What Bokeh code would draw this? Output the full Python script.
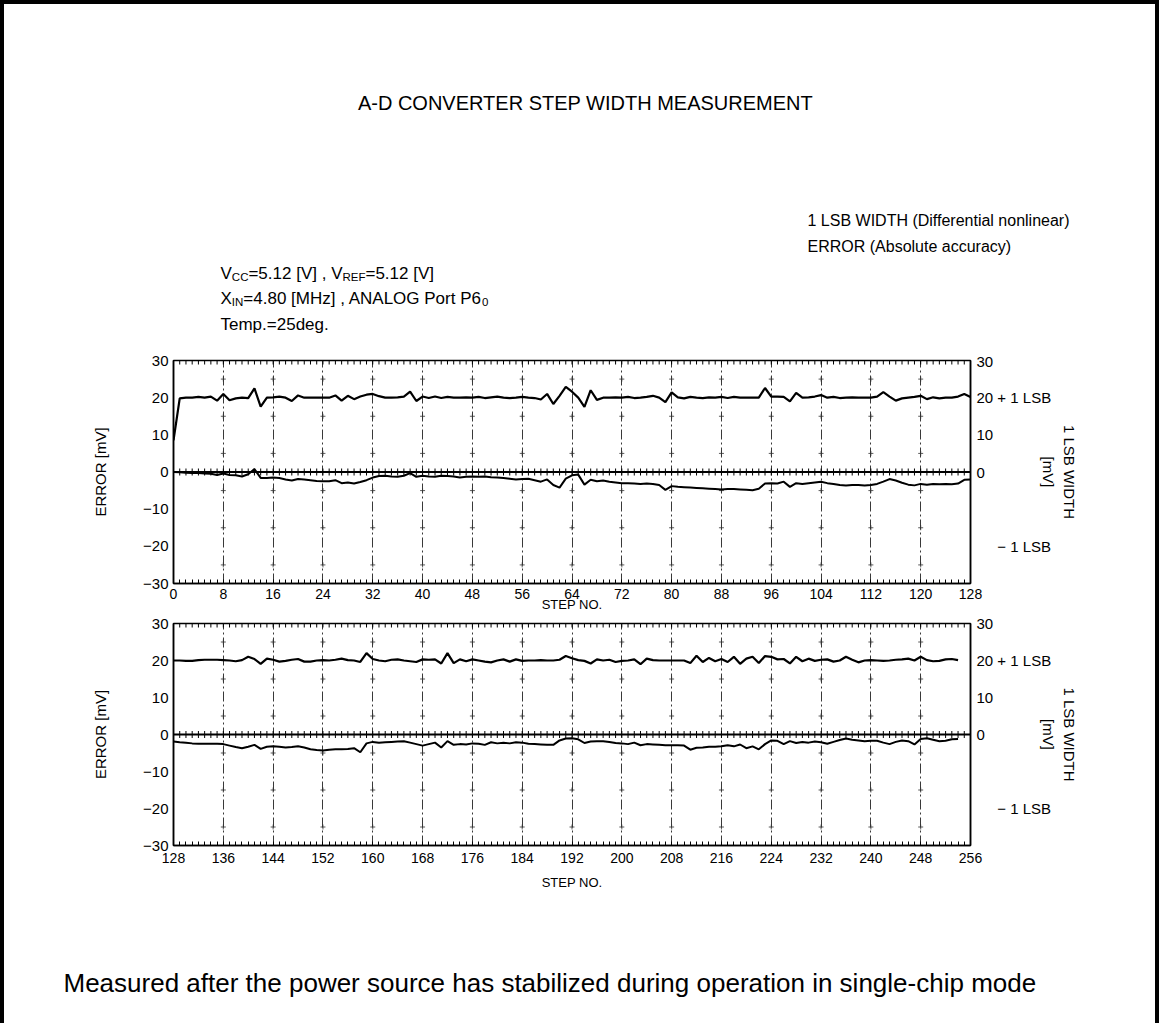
import numpy as np
from bokeh.plotting import figure
from bokeh.models import LinearAxis, FixedTicker, Span, Label, Range1d
from bokeh.layouts import column, row
from bokeh.embed import file_html
from bokeh.resources import INLINE

# ---------------- data ----------------
lsb_width_upper = [
    8.5, 19.8, 20.0, 20.0, 20.2, 20.0, 20.3, 19.2, 21.0, 19.3,
    19.8, 20.0, 19.9, 22.5, 17.6, 20.0, 20.1, 20.3, 20.0, 19.1,
    20.6, 20.0, 20.0, 20.0, 20.0, 20.0, 20.6, 19.2, 20.5, 19.6,
    20.3, 20.8, 21.0, 20.4, 20.0, 20.0, 20.1, 20.3, 21.6, 19.1,
    20.3, 19.9, 20.3, 19.9, 20.2, 20.0, 20.0, 20.1, 20.0, 20.2,
    19.9, 20.1, 20.3, 20.0, 19.9, 20.0, 20.2, 20.0, 19.9, 19.5,
    21.0, 18.3, 20.5, 22.9, 21.6, 20.0, 17.5, 22.0, 19.4, 20.0,
    20.0, 20.1, 20.0, 20.2, 19.9, 20.0, 20.2, 20.5, 20.0, 18.8,
    21.4, 20.1, 19.8, 20.2, 20.0, 19.9, 20.1, 20.0, 20.2, 19.9,
    20.2, 20.0, 20.0, 20.0, 20.0, 22.6, 20.3, 20.3, 20.2, 19.0,
    21.3, 20.0, 20.1, 20.3, 20.7, 20.0, 20.2, 19.9, 20.0, 20.1,
    20.0, 20.0, 20.0, 20.3, 21.5, 20.3, 19.2, 19.8, 20.0, 20.2,
    20.5, 19.6, 20.1, 19.8, 20.0, 20.0, 20.3, 21.0, 20.2,
]
abs_error_upper = [
    0.0, -0.1, -0.2, -0.3, -0.3, -0.4, -0.5, -0.8, -0.4, -0.8,
    -0.9, -1.2, -0.6, 0.8, -1.6, -1.6, -1.5, -1.6, -2.0, -2.3,
    -1.9, -2.0, -2.2, -2.4, -2.5, -2.5, -2.2, -3.0, -2.8, -3.1,
    -2.7, -2.2, -1.5, -1.1, -1.0, -1.2, -1.3, -1.0, -0.3, -1.3,
    -1.0, -1.2, -1.3, -1.0, -1.1, -1.2, -1.5, -1.3, -1.2, -1.3,
    -1.2, -1.4, -1.5, -1.6, -1.8, -2.0, -1.9, -1.8, -2.2, -2.6,
    -2.0, -3.5, -4.2, -1.8, -0.9, -0.7, -3.4, -2.1, -2.5, -2.3,
    -2.6, -2.8, -3.0, -3.0, -3.1, -3.2, -3.1, -3.2, -3.5, -4.8,
    -3.8, -4.0, -4.1, -4.2, -4.3, -4.4, -4.5, -4.6, -4.7, -4.6,
    -4.6, -4.7, -4.8, -4.9, -4.5, -3.1, -3.0, -3.1, -2.6, -4.0,
    -3.0, -3.2, -3.0, -2.8, -2.6, -3.0, -3.2, -3.5, -3.6, -3.5,
    -3.5, -3.6, -3.5, -3.2, -2.6, -1.9, -2.3, -2.9, -3.4, -3.6,
    -3.2, -3.4, -3.2, -3.3, -3.2, -3.3, -3.1, -2.1, -2.0,
]
lsb_width_lower = [
    20.0, 20.0, 19.9, 19.9, 20.1, 20.2, 20.2, 20.2, 20.1, 20.0,
    19.8, 20.1, 21.0, 20.4, 19.1, 20.5, 20.2, 19.7, 19.9, 20.2,
    20.4, 19.7, 19.7, 20.0, 20.1, 20.0, 20.2, 20.5, 20.1, 20.0,
    19.6, 22.0, 20.4, 20.0, 19.8, 20.2, 20.3, 20.0, 19.8, 19.6,
    20.3, 20.2, 20.3, 19.2, 22.0, 19.3, 20.3, 19.8, 20.3, 20.0,
    19.7, 19.5, 20.0, 20.3, 19.7, 20.3, 19.9, 20.0, 20.0, 20.1,
    20.0, 20.0, 20.2, 21.2, 20.6, 20.1, 19.9, 19.2, 20.3, 20.0,
    20.2, 19.6, 19.9, 20.0, 20.3, 19.0, 20.5, 20.1, 20.0, 20.0,
    20.0, 20.0, 20.0, 19.3, 21.3, 19.6, 20.7, 19.8, 20.4, 19.6,
    21.0, 19.1, 20.5, 21.0, 19.3, 21.2, 21.0, 20.3, 20.4, 19.2,
    21.0, 19.8, 20.5, 19.9, 20.2, 20.3, 19.7, 20.0, 21.0, 20.2,
    19.5, 20.0, 20.1, 20.0, 19.9, 20.0, 20.2, 20.3, 20.5, 20.0,
    21.0, 20.1, 19.8, 19.9, 20.3, 20.4, 20.1,
]
abs_error_lower = [
    -1.9, -2.1, -2.2, -2.4, -2.5, -2.5, -2.5, -2.5, -2.6, -3.0,
    -3.4, -3.7, -3.3, -2.8, -3.9, -3.3, -3.2, -3.3, -3.5, -3.4,
    -3.2, -3.5, -4.0, -4.2, -4.3, -4.1, -4.0, -4.0, -3.9, -3.7,
    -4.8, -2.4, -2.0, -2.2, -2.1, -2.0, -1.9, -1.8, -2.2, -2.6,
    -3.0, -2.6, -2.2, -3.5, -1.8, -2.8, -2.6, -2.7, -2.4, -2.5,
    -2.8, -2.1, -2.4, -2.2, -2.4, -2.1, -2.2, -2.5, -2.6, -2.7,
    -2.8, -2.8, -1.6, -1.1, -1.0, -1.3, -2.3, -1.9, -1.8, -1.8,
    -2.0, -2.3, -2.4, -2.6, -2.2, -2.9, -2.6, -2.7, -2.8, -2.9,
    -2.9, -2.9, -3.0, -4.1, -3.6, -3.5, -3.3, -3.3, -3.2, -2.9,
    -3.2, -2.7, -3.7, -3.2, -4.0, -2.6, -1.6, -1.7, -2.6, -1.8,
    -2.3, -2.0, -2.2, -1.9, -2.1, -2.5, -2.0, -1.5, -1.1, -1.4,
    -1.6, -1.8, -1.7, -1.7, -2.2, -2.6, -2.0, -1.6, -1.8, -2.7,
    -1.2, -1.0, -1.4, -1.8, -1.7, -1.3, -1.2,
]
first_step_upper = 0
first_step_lower = 128

x_ticks_upper = [0, 8, 16, 24, 32, 40, 48, 56, 64, 72, 80, 88, 96, 104, 112, 120, 128]
x_ticks_lower = [128, 136, 144, 152, 160, 168, 176, 184, 192, 200, 208, 216, 224, 232, 240, 248, 256]
y_ticks_left = [-30, -20, -10, 0, 10, 20, 30]
y_labels_left = ["\u221230", "\u221220", "\u221210", "0", "10", "20", "30"]
y_ticks_right = [-20, 0, 10, 20, 30]
# the "- 1 LSB" mark sits indented in the right-hand column (non-breaking spaces keep the indent)
y_labels_right = ["\u00a0\u00a0\u00a0\u00a0\u00a0\u2212 1 LSB", "0", "10", "20 + 1 LSB", "30"]
right_title = "1 LSB WIDTH\n[mV]"
left_title = "ERROR [mV]"
x_title = "STEP NO."

title_text = "A-D CONVERTER STEP WIDTH MEASUREMENT"
legend_lines = ["1 LSB WIDTH (Differential nonlinear)", "ERROR (Absolute accuracy)"]
cond_lines = [
    [("V", False), ("CC", True), ("=5.12 [V] , V", False), ("REF", True), ("=5.12 [V]", False)],
    [("X", False), ("IN", True), ("=4.80 [MHz] , ANALOG Port P6", False), ("0", True)],
    [("Temp.=25deg.", False)],
]
footnote = "Measured after the power source has stabilized during operation in single-chip mode"

# ---------------- layout ----------------
FONT = "Liberation Sans"
W = 1151
BL = 169
FW = 797
BR = W - BL - FW
OX, OY = 4, 4            # page position of the content (inside the 4px page frame)
Y_LO, Y_HI = -30, 30

H_HEAD = 348
TOP_A, FH_A, BOT_A = 8, 223, 31
TOP_B, FH_B, BOT_B = 9, 222, 50
H_FOOT = 128

# Arial / Liberation Sans advance widths (1/1000 em) used to chain sub-scripted pieces
AW = {' ': 278, '=': 584, '.': 278, ',': 278, '[': 278, ']': 278, 'V': 667, 'C': 722,
      'R': 722, 'E': 667, 'F': 611, 'X': 667, 'I': 278, 'N': 722, 'M': 833, 'H': 722,
      'z': 500, 'A': 667, 'L': 556, 'O': 778, 'G': 778, 'P': 667, 'o': 556, 'r': 333,
      't': 278, 'T': 611, 'e': 556, 'm': 833, 'p': 556, 'd': 556, 'g': 556}


def text_width(s, size):
    return sum(AW.get(c, 556) for c in s) * size / 1000.0


def blank_canvas(height):
    """A figure without axes whose frame is the whole canvas; data units = pixels, y downward."""
    c = figure(width=W, height=height, x_range=Range1d(0, W), y_range=Range1d(height, 0),
               output_backend="svg", toolbar_location=None,
               x_axis_location=None, y_axis_location=None,
               min_border=0, min_border_left=0, min_border_right=0,
               min_border_top=0, min_border_bottom=0,
               background_fill_color="white", border_fill_color="white",
               outline_line_color=None)
    c.grid.visible = False
    return c


def make_panel(first_step, lsb, err, xticks, top, fh, bottom, tick_standoff, xlabel_standoff):
    x0, x1 = xticks[0], xticks[-1]
    p = figure(width=W, height=top + fh + bottom,
               x_range=Range1d(x0, x1), y_range=Range1d(Y_LO, Y_HI),
               output_backend="svg", toolbar_location=None,
               min_border_left=BL, min_border_right=BR,
               min_border_top=top, min_border_bottom=bottom,
               background_fill_color="white", border_fill_color="white",
               outline_line_color="black", outline_line_width=1.5)
    unit_steps = list(range(x0, x1 + 1))

    # bottom axis
    xa = p.xaxis[0]
    xa.ticker = FixedTicker(ticks=xticks, minor_ticks=unit_steps)
    xa.major_tick_in = 0
    xa.major_tick_out = 0
    xa.minor_tick_in = 4
    xa.minor_tick_out = 0
    xa.minor_tick_line_color = "black"
    xa.axis_line_color = "black"
    xa.axis_line_width = 1.5
    xa.major_label_standoff = tick_standoff
    xa.major_label_text_font = FONT
    xa.major_label_text_font_size = "14px"
    xa.major_label_text_color = "black"
    xa.axis_label = x_title
    xa.axis_label_standoff = xlabel_standoff
    xa.axis_label_text_font = FONT
    xa.axis_label_text_font_size = "13px"
    xa.axis_label_text_font_style = "normal"
    xa.axis_label_text_color = "black"

    # left axis
    ya = p.yaxis[0]
    ya.ticker = FixedTicker(ticks=y_ticks_left)
    ya.major_label_overrides = dict(zip(y_ticks_left, y_labels_left))
    ya.major_tick_in = 0
    ya.major_tick_out = 0
    ya.minor_tick_in = 0
    ya.minor_tick_out = 0
    ya.axis_line_color = "black"
    ya.axis_line_width = 1.5
    ya.major_label_standoff = 5
    ya.major_label_text_font = FONT
    ya.major_label_text_font_size = "15px"
    ya.major_label_text_color = "black"
    ya.axis_label = left_title
    ya.axis_label_standoff = 31
    ya.axis_label_text_font = FONT
    ya.axis_label_text_font_size = "15px"
    ya.axis_label_text_font_style = "normal"
    ya.axis_label_text_color = "black"

    # right axis (1 LSB width scale)
    ra = LinearAxis(ticker=FixedTicker(ticks=y_ticks_right),
                    major_label_overrides=dict(zip(y_ticks_right, y_labels_right)),
                    major_tick_in=0, major_tick_out=0, minor_tick_in=0, minor_tick_out=0,
                    axis_line_color="black", axis_line_width=1.5,
                    major_label_standoff=6, major_label_text_font=FONT,
                    major_label_text_font_size="15px", major_label_text_color="black",
                    axis_label=right_title, axis_label_standoff=-14,
                    axis_label_text_font=FONT, axis_label_text_font_size="15px",
                    axis_label_text_font_style="normal", axis_label_text_color="black")
    p.add_layout(ra, "right")

    # grid: dash-dot verticals every 8 steps
    p.xgrid.ticker = FixedTicker(ticks=xticks)
    p.xgrid.grid_line_color = "#222222"
    p.xgrid.grid_line_width = 0.9
    p.xgrid.grid_line_dash = "10 3 2 3"
    p.ygrid.visible = False

    # small crosses of the graph paper along the grid verticals
    inner = xticks[1:-1]
    marks_y = list(np.arange(Y_LO + 5, Y_HI, 10))
    gx = [t for t in inner for _ in marks_y]
    gy = [v for _ in inner for v in marks_y]
    p.scatter(gx, gy, marker="cross", size=5, line_color="#333333", line_width=0.8)

    # zero line with per-step ticks, top border ticks
    p.add_layout(Span(location=0, dimension="width", line_color="black", line_width=2))
    p.scatter(unit_steps, [0] * len(unit_steps), marker="dash", angle=np.pi / 2,
              size=7, line_color="black", line_width=1)
    p.scatter(unit_steps, [Y_HI] * len(unit_steps), marker="dash", angle=np.pi / 2,
              size=8, line_color="black", line_width=1)

    # the two measured curves
    s_lsb = list(range(first_step, first_step + len(lsb)))
    s_err = list(range(first_step, first_step + len(err)))
    p.line(s_lsb, lsb, line_color="black", line_width=2.2)
    p.line(s_err, err, line_color="black", line_width=2)
    return p


# ---------------- header ----------------
head = blank_canvas(H_HEAD)


def hlabel(px, py, text, size, align="left", baseline="middle"):
    head.add_layout(Label(x=px - OX, y=py - OY, text=text, text_font=FONT,
                          text_font_size=f"{size}px", text_color="black",
                          text_align=align, text_baseline=baseline))


hlabel(585, 102, title_text, 20, align="center")
for txt, py in zip(legend_lines, [220, 246]):
    hlabel(807, py, txt, 16)

MAIN, SUB = 17, 11.5
for segs, py in zip(cond_lines, [267, 292, 318]):
    base = py + 0.36 * MAIN
    cx = 220.0
    for txt, is_sub in segs:
        size = SUB if is_sub else MAIN
        yb = base + (3.5 if is_sub else 0.0)
        hlabel(cx, yb, txt, size, baseline="alphabetic")
        cx += text_width(txt, size)

# ---------------- panels ----------------
pa = make_panel(first_step_upper, lsb_width_upper, abs_error_upper, x_ticks_upper,
                TOP_A, FH_A, BOT_A, 5, -5)
pb = make_panel(first_step_lower, lsb_width_lower, abs_error_lower, x_ticks_lower,
                TOP_B, FH_B, BOT_B, 7, 9)

# ---------------- footer ----------------
foot = blank_canvas(H_FOOT)
foot_top = OY + H_HEAD + TOP_A + FH_A + BOT_A + TOP_B + FH_B + BOT_B
foot.add_layout(Label(x=63 - OX, y=982 - foot_top, text=footnote, text_font=FONT,
                      text_font_size="26px", text_color="black",
                      text_align="left", text_baseline="middle"))

# header and footer are wrapped so their frames are not aligned with the panels' frames
page = column(row(head), pa, pb, row(foot), spacing=0,
              styles={"border-top": "4px solid black", "border-left": "4px solid black",
                      "border-right": "4px solid black", "background-color": "white"})

open("out.html", "w").write(file_html(page, INLINE))
